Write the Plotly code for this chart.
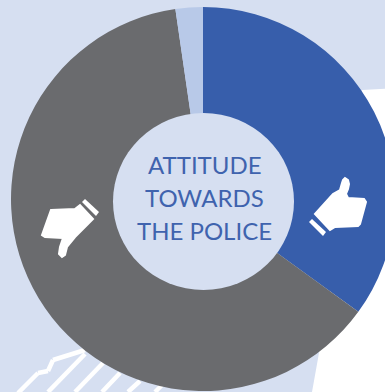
import plotly.graph_objects as go

# Share of respondents by attitude
categories = ["Positive", "Negative", "No answer"]
shares = [35.0, 62.7, 2.3]
slice_colors = ["#375EAB", "#6A6B6E", "#B8C9E8"]
center_lines = ["ATTITUDE", "TOWARDS", "THE POLICE"]

# The figure runs a little wider than the window so the ring bleeds off the right edge
FIG_W, FIG_H = 400, 392
BACKDROP = "#D6DFF1"


def px(x):
    return x / FIG_W


def py(y):
    return 1 - y / FIG_H


def path(points):
    return "M" + " L".join(f"{px(x):.4f},{py(y):.4f}" for x, y in points) + " Z"


def poly(points, color, edge=0):
    return dict(type="path", xref="paper", yref="paper", path=path(points),
                fillcolor=color, line=dict(width=edge, color=color), layer="above")


def stroke(x0, y0, x1, y1, width=4.5):
    return dict(type="line", xref="paper", yref="paper",
                x0=px(x0), y0=py(y0), x1=px(x1), y1=py(y1),
                line=dict(color="white", width=width), layer="below")


thumb_up = [(315, 214), (333, 194), (340, 190), (342, 183), (343, 180), (345, 178), (348, 180),
            (349, 184), (348, 189), (346, 194), (348, 198), (364, 199), (366, 202), (360, 224),
            (358, 226), (335, 227), (330, 230)]
thumb_up_cuff = [(312, 219), (309, 222), (323, 236), (326, 232)]
thumb_down = [(51, 210), (75, 209), (80, 205), (93, 219), (75, 237), (67, 247), (65, 255),
              (62, 257), (59, 254), (60, 247), (63, 238), (45, 237), (42, 235)]
thumb_down_cuff = [(85, 199), (82, 202), (96, 216), (99, 212)]

shapes = [
    # White panel behind the ring
    dict(type="path", xref="paper", yref="paper", layer="below", line=dict(width=0), fillcolor="white",
         path=path([(362, 90), (400, 88), (400, 392), (312, 392), (350, 180)])),
    # Hatched skyline at the lower left
    stroke(18, 393, 38, 373), stroke(38, 373, 48, 371), stroke(48, 371, 53, 360),
    stroke(53, 360, 85, 350),
    stroke(48, 392, 85, 354), stroke(75, 392, 103, 363), stroke(102, 392, 120, 373),
    stroke(128, 392, 140, 381), stroke(155, 392, 165, 382),
    # Centre disc sits slightly below the ring's own centre
    dict(type="circle", xref="paper", yref="paper", layer="above", line=dict(width=0),
         fillcolor=BACKDROP, x0=px(113), x1=px(294), y0=py(290), y1=py(113)),
    poly(thumb_up, "white", 2), poly(thumb_up_cuff, "white"),
    poly(thumb_down, "white", 2), poly(thumb_down_cuff, "white"),
]

fig = go.Figure(go.Pie(
    labels=categories, values=shares, sort=False, direction="clockwise", rotation=0,
    hole=0.4, textinfo="none", hoverinfo="label+percent",
    marker=dict(colors=slice_colors, line=dict(width=0)),
    domain=dict(x=[px(11), px(395)], y=[py(391), py(7)]),
    showlegend=False,
))

for line, y in zip(center_lines, (164, 197, 230)):
    fig.add_annotation(text=line, x=px(204.5), y=py(y), xref="paper", yref="paper",
                       showarrow=False, xanchor="center", yanchor="middle",
                       font=dict(family="Lato", size=24, color="#3F63AE"))

fig.update_layout(width=FIG_W, height=FIG_H, margin=dict(l=0, r=0, t=0, b=0),
                  paper_bgcolor=BACKDROP, plot_bgcolor=BACKDROP, shapes=shapes)

fig.write_html("out.html", post_script="document.documentElement.style.overflow='hidden';document.body.style.overflow='hidden';",
               config=dict(displayModeBar=False))
